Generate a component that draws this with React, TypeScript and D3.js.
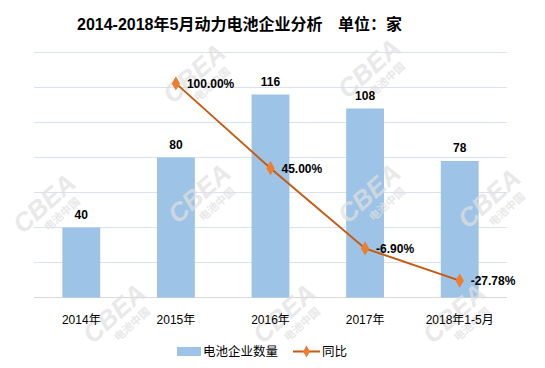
import React from 'react';
import * as d3 from 'd3';

// 数据
const categories = ['2014年', '2015年', '2016年', '2017年', '2018年1-5月'];
const companyCounts = [40, 80, 116, 108, 78];
const yoyCategories = ['2015年', '2016年', '2017年', '2018年1-5月'];
const yoyValues = [100.0, 45.0, -6.9, -27.78];
const countTicks = [0, 20, 40, 60, 80, 100, 120, 140];

const width = 545;
const height = 368;
const margin = { top: 52.5, right: 38, bottom: 70.5, left: 34 };

const barColor = '#9DC3E6';
const lineColor = '#C65A11';
const markerColor = '#ED7D31';
const gridColor = '#D9E1F2';
const font = '"Liberation Sans", "Noto Sans CJK SC", Arial, sans-serif';

// 水印位置 (背景)
const marks: [number, number][] = [
  [200, 80], [375, 75],
  [50, 210], [205, 200], [375, 200], [495, 205],
  [120, 320], [290, 320], [460, 320],
];

const Watermark: React.FC<{ x: number; y: number }> = ({ x, y }) => (
  <g transform={`translate(${x},${y}) rotate(-42)`} fill="#e0e0e0" opacity={0.7}>
    <text x={0} y={0} textAnchor="middle" fontFamily={font} fontWeight="bold" fontStyle="italic" fontSize={26}>
      CBEA
    </text>
    <text x={6} y={15} textAnchor="middle" fontFamily={font} fontWeight="bold" fontSize={11}>
      电池中国
    </text>
  </g>
);

const pct = (v: number) => d3.format('.2f')(v).replace('\u2212', '-') + '%';

const App: React.FC = () => {
  const x = d3
    .scaleBand<string>()
    .domain(categories)
    .range([margin.left, width - margin.right])
    .paddingInner(0.6)
    .paddingOuter(0.3);

  const y = d3
    .scaleLinear()
    .domain([0, 140])
    .range([height - margin.bottom, margin.top]);

  const y2 = d3
    .scaleLinear()
    .domain([-40, 120])
    .range([height - margin.bottom + 2, margin.top]);

  const cx = (c: string) => (x(c) ?? 0) + x.bandwidth() / 2;

  const line = d3
    .line<number>()
    .x((_, i) => cx(yoyCategories[i]))
    .y((d) => y2(d));

  const diamond = d3.symbol().type(d3.symbolDiamond).size(60)() ?? '';
  const diamondSmall = d3.symbol().type(d3.symbolDiamond).size(40)() ?? '';

  return (
    <svg width={width} height={height} style={{ position: 'absolute', left: 0, top: 0 }}>
      <rect width={width} height={height} fill="#fff" />

      {/* 网格线 */}
      {countTicks.map((t) => (
        <line
          key={t}
          x1={margin.left}
          x2={width - margin.right}
          y1={y(t)}
          y2={y(t)}
          stroke={t === 0 ? '#D9D9D9' : gridColor}
          strokeWidth={1}
        />
      ))}

      {/* 柱子 */}
      {companyCounts.map((v, i) => (
        <rect
          key={categories[i]}
          x={x(categories[i])}
          y={y(v)}
          width={x.bandwidth()}
          height={y(0) - y(v)}
          fill={barColor}
        />
      ))}

      {/* 水印 */}
      {marks.map(([mx, my], i) => (
        <Watermark key={i} x={mx} y={my} />
      ))}

      {/* 柱子标签 */}
      {companyCounts.map((v, i) => (
        <text
          key={categories[i]}
          x={cx(categories[i])}
          y={y(v) - 9}
          textAnchor="middle"
          fontFamily={font}
          fontWeight="bold"
          fontSize={12}
          fill="#000"
        >
          {v}
        </text>
      ))}

      {/* 同比折线 */}
      <path d={line(yoyValues) ?? ''} fill="none" stroke={lineColor} strokeWidth={2} />
      {yoyValues.map((v, i) => (
        <g key={yoyCategories[i]}>
          <path d={diamond} transform={`translate(${cx(yoyCategories[i])},${y2(v)})`} fill={markerColor} />
          <text
            x={cx(yoyCategories[i]) + 11}
            y={y2(v) + 4.5}
            fontFamily={font}
            fontWeight="bold"
            fontSize={12}
            fill="#000"
          >
            {pct(v)}
          </text>
        </g>
      ))}

      {/* x轴标签 */}
      {categories.map((c) => (
        <text
          key={c}
          x={cx(c)}
          y={height - margin.bottom + 26}
          textAnchor="middle"
          fontFamily={font}
          fontSize={12}
          fill="#000"
        >
          {c}
        </text>
      ))}

      {/* 标题 */}
      <text x={77} y={30} fontFamily={font} fontWeight="bold" fontSize={16} fill="#000">
        2014-2018年5月动力电池企业分析
      </text>
      <text x={338} y={30} fontFamily={font} fontWeight="bold" fontSize={16} fill="#000">
        单位：家
      </text>

      {/* 图例 */}
      <rect x={177} y={347} width={24} height={9} fill={barColor} />
      <text x={203} y={356} fontFamily={font} fontSize={12.5} fill="#000">
        电池企业数量
      </text>
      <line x1={293} x2={320} y1={351.5} y2={351.5} stroke={lineColor} strokeWidth={2} />
      <path d={diamondSmall} transform="translate(306.5,351.5)" fill={markerColor} />
      <text x={322} y={356} fontFamily={font} fontSize={12.5} fill="#000">
        同比
      </text>
    </svg>
  );
};

export default App;
